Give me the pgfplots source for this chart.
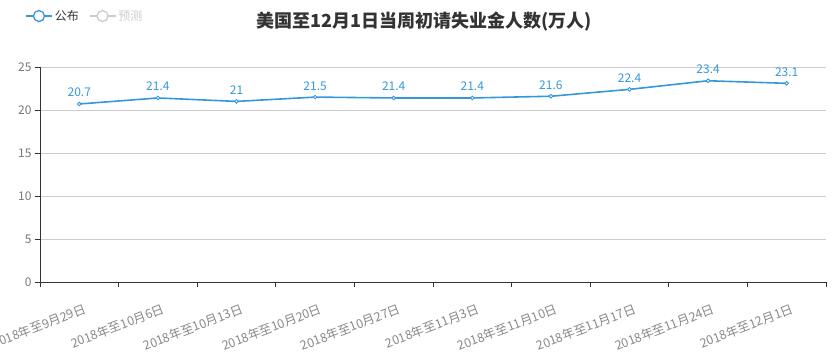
\documentclass[border=0pt]{standalone}
\usepackage{fontspec}
\setmainfont{Noto Sans CJK SC}
\usepackage{pgfplots}
\pgfplotsset{compat=1.18}
\definecolor{lblue}{HTML}{3498DB}
\definecolor{lgrey}{HTML}{CCCCCC}
\definecolor{gridgrey}{HTML}{CCCCCC}
\definecolor{axisc}{HTML}{333333}
\definecolor{ylab}{HTML}{777777}
\definecolor{xlab}{HTML}{888888}
\definecolor{titlec}{HTML}{333333}
\begin{document}
\begin{tikzpicture}[x=1pt,y=1pt]
\useasboundingbox (0,0) rectangle (837,356);
\node[font=\fontsize{18}{18}\selectfont\bfseries, text=titlec] at (424,334) {美国至12月1日当周初请失业金人数(万人)};
\begin{axis}[
  at={(40pt,74pt)}, anchor=south west,
  scale only axis, width=786pt, height=215pt,
  clip=false,
  xmin=-0.5, xmax=9.5, ymin=0, ymax=25,
  ytick={0,5,...,25},
  xtick={-0.5,0.5,...,9.5},
  x tick label as interval,
  xticklabels={2018年至9月29日,2018年至10月6日,2018年至10月13日,2018年至10月20日,2018年至10月27日,2018年至11月3日,2018年至11月10日,2018年至11月17日,2018年至11月24日,2018年至12月1日},
  axis lines*=left,
  axis line style={color=axisc, line width=0.9pt},
  ymajorgrids, grid style={color=gridgrey, line width=0.8pt},
  tick align=outside, major tick length=5pt,
  tick style={color=axisc, line width=0.9pt},
  /pgf/number format/assume math mode=true,
  y tick label style={font=\fontsize{12}{12}\selectfont, text=ylab},
  x tick label style={font=\fontsize{12.5}{12.5}\selectfont, text=xlab, rotate=21, anchor=north east, inner sep=0pt, yshift=-16pt, xshift=-2pt},
  legend style={at={(-0.0229,1.237)}, anchor=west, draw=none, fill=none,
    font=\fontsize{12}{12}\selectfont, legend columns=2,
    /tikz/every even column/.append style={column sep=8pt},
    cells={anchor=west}},
  legend image code/.code={
    \draw[#1, line width=1.6pt] (0pt,0pt) -- (26pt,0pt);
    \draw[#1, line width=1.3pt, fill=white] (13pt,0pt) circle (5.5pt);},
]
\addplot[forget plot, color=lblue, line width=1.6pt, mark=*, mark size=1.8pt,
  mark options={fill=white, draw=lblue, line width=0.9pt},
  nodes near coords,
  every node near coord/.append style={font=\fontsize{12}{12}\selectfont, text=lblue, anchor=base, inner sep=0pt, yshift=7pt}]
  coordinates {(0,20.7) (1,21.4) (2,21) (3,21.5) (4,21.4) (5,21.4) (6,21.6) (7,22.4) (8,23.4) (9,23.1)};
\addlegendimage{color=lblue}
\addlegendentry{\textcolor{titlec}{公布}}
\addlegendimage{color=lgrey}
\addlegendentry{\textcolor{lgrey}{预测}}
\end{axis}
\end{tikzpicture}
\end{document}
